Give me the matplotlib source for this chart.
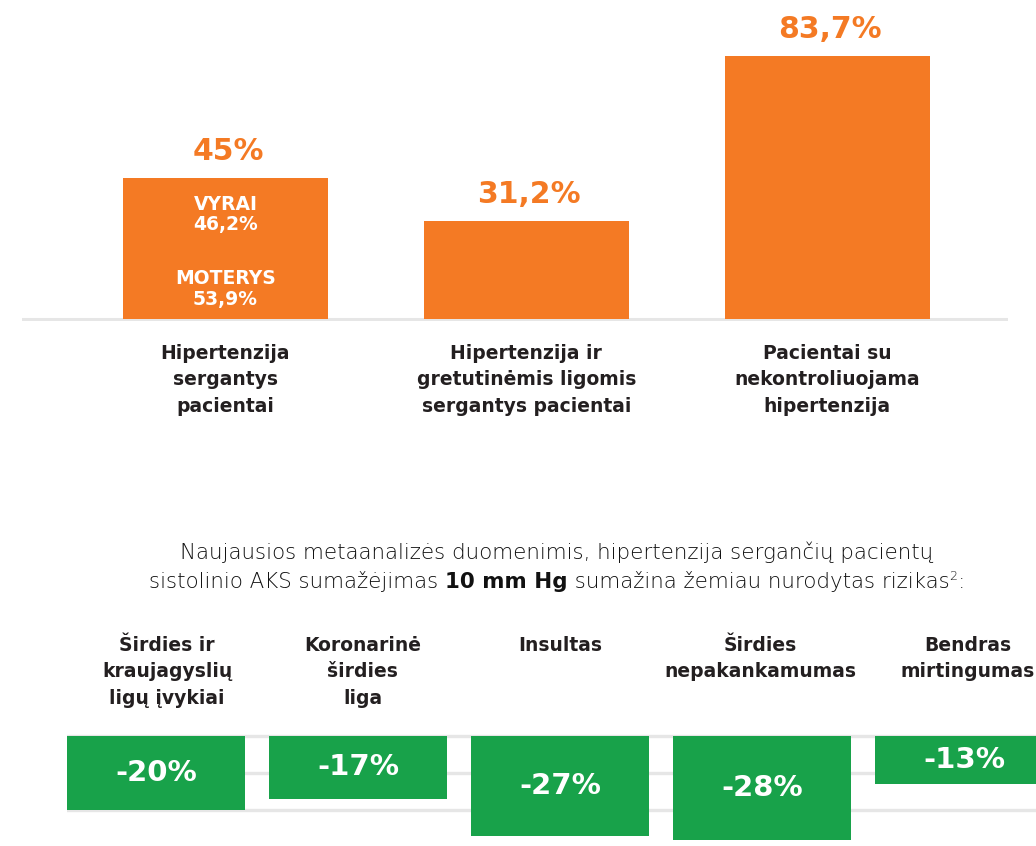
import matplotlib
matplotlib.use("Agg")
import matplotlib.pyplot as plt

plt.rcParams['font.family'] = ['DejaVu Sans']

# top chart data
top_categories = ["Hipertenzija\nsergantys\npacientai",
                  "Hipertenzija ir\ngretutinėmis ligomis\nsergantys pacientai",
                  "Pacientai su\nnekontroliuojama\nhipertenzija"]
top_values = [45, 31.2, 83.7]
top_labels = ["45%", "31,2%", "83,7%"]
split_labels = ["VYRAI\n46,2%", "MOTERYS\n53,9%"]
split_pos = [0.74, 0.21]

# bottom chart data
risk_categories = ["Širdies ir\nkraujagyslių\nligų įvykiai",
                   "Koronarinė\nširdies\nliga",
                   "Insultas",
                   "Širdies\nnepakankamumas",
                   "Bendras\nmirtingumas"]
risk_values = [-20, -17, -27, -28, -13]
risk_labels = ["-20%", "-17%", "-27%", "-28%", "-13%"]
risk_grid = [0, -10, -20]
# small horizontal nudges of the headers (points), as in the original layout
header_shift = [8, 3.5, 0.5, -1.5, 2.5]

ORANGE = "#F47A24"
GREEN = "#18A24A"
GRID = "#E6E6E6"
DARK = "#231F20"

W, H = 1036, 846
fig = plt.figure(figsize=(W / 100, H / 100), dpi=100)


def px_axes(left, top, right, bottom):
    return fig.add_axes([left / W, 1 - bottom / H, (right - left) / W, (bottom - top) / H])


# ---- top bar chart
ax = px_axes(22, 10, 1008, 321)
x = range(len(top_values))
ax.bar(x, top_values, width=0.68, color=ORANGE, zorder=2)
ax.axhline(0, color=GRID, lw=2.2, zorder=1)
ax.set_xlim(-0.676, 2.6)
ax.set_ylim(-0.64, 98.4)
ax.axis("off")
for i, v in enumerate(top_values):
    ax.annotate(top_labels[i], (i, v), xytext=(2, 13), textcoords="offset points",
                ha="center", va="baseline", fontsize=21.5, fontweight="bold", color=ORANGE)
    ax.annotate(top_categories[i], (i, 0), xytext=(0, -18), textcoords="offset points",
                ha="center", va="top", fontsize=13.5, fontweight="bold", color=DARK,
                linespacing=1.5, annotation_clip=False)
for lab, f in zip(split_labels, split_pos):
    ax.text(0, top_values[0] * f, lab, ha="center", va="center", fontsize=13.5,
            fontweight="bold", color="white", linespacing=1.12)

# ---- heading with mixed weights
renderer = fig.canvas.get_renderer()
cx = 557


def run_line(runs, y):
    texts = []
    for s, kw in runs:
        t = fig.text(0, y / H, s, ha="left", va="baseline", color="#111111", **kw)
        texts.append(t)
    widths = [t.get_window_extent(renderer).width for t in texts]
    xpos = cx - sum(widths) / 2
    for t, w in zip(texts, widths):
        t.set_x(xpos / W)
        xpos += w
    return texts


light = dict(fontsize=15.4, fontweight="light")
run_line([("Naujausios metaanalizės duomenimis, hipertenzija sergančių pacientų", light)], H - 559)
line2 = run_line([("sistolinio AKS sumažėjimas ", light),
                  ("10 mm Hg", dict(fontsize=15.4, fontweight="bold")),
                  (" sumažina žemiau nurodytas rizikas", light),
                  ("2", dict(fontsize=9, fontweight="light")),
                  (":", light)], H - 588)
line2[3].set_y((H - 580) / H)

# ---- bottom boxes
bx = px_axes(67, 733, 1036, 846)
xr = range(len(risk_values))
for g in risk_grid:
    bx.axhline(g, color=GRID, lw=2.4, zorder=1)
bx.bar(xr, risk_values, width=0.88, color=GREEN, zorder=2)
bx.set_xlim(-0.44, 4.356)
bx.set_ylim(-29.75, 0.8)
bx.axis("off")
for i, v in enumerate(risk_values):
    bx.text(i, v / 2, risk_labels[i], ha="center", va="center", fontsize=21,
            fontweight="bold", color="white", zorder=3)
    bx.annotate(risk_categories[i], (i, 0), xytext=(header_shift[i], 72),
                textcoords="offset points", ha="center", va="top", fontsize=13.5,
                fontweight="bold", color=DARK, linespacing=1.5, annotation_clip=False)

fig.savefig("out.png", dpi=100, facecolor="white")
